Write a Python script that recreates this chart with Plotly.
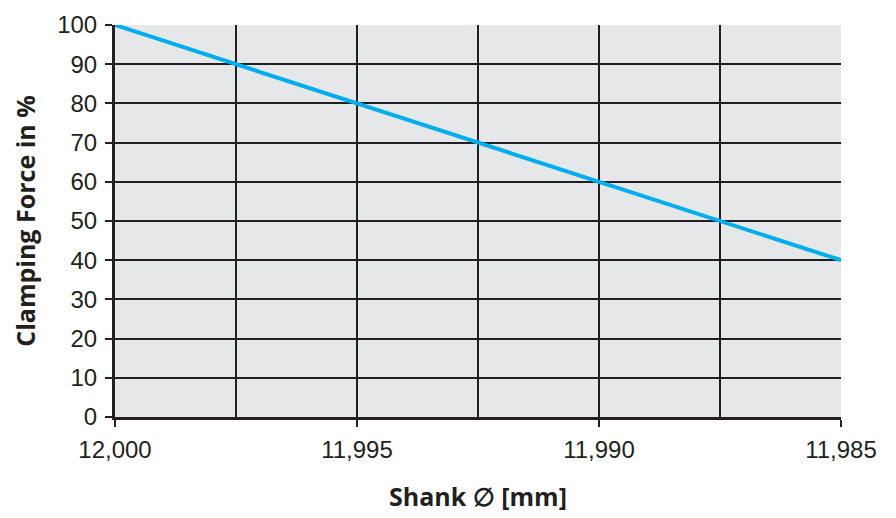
import plotly.graph_objects as go

shank_mm = [12.000, 11.9975, 11.995, 11.9925, 11.990, 11.9875, 11.985]
clamping_pct = [100, 90, 80, 70, 60, 50, 40]

x_ticks = [12.000, 11.995, 11.990, 11.985]
y_ticks = [0, 10, 20, 30, 40, 50, 60, 70, 80, 90, 100]

DARK = "#231f20"

fig = go.Figure()
fig.add_trace(go.Scatter(
    x=shank_mm, y=clamping_pct, mode="lines",
    line=dict(color="#00aeef", width=4), showlegend=False,
))

fig.update_layout(
    width=896, height=518,
    margin=dict(l=107, r=63, t=17, b=109, autoexpand=False),
    paper_bgcolor="white", plot_bgcolor="#e6e7e8",
    separators=",.",
    font=dict(family="Liberation Sans, Arial, sans-serif", size=24, color=DARK),
)
fig.update_xaxes(
    range=[12.000, 11.985], tickvals=x_ticks, tickformat=".3f",
    showgrid=True, gridcolor=DARK, gridwidth=2,
    minor=dict(dtick=0.0025, tick0=12.0, showgrid=True, gridcolor=DARK, gridwidth=2),
    ticks="outside", ticklen=7, tickwidth=2, tickcolor=DARK,
    ticklabelstandoff=2, automargin=False,
    showline=True, linecolor=DARK, linewidth=3, mirror=False,
    zeroline=False,
    title=dict(text="<b>Shank ∅ [mm]</b>", standoff=27,
               font=dict(family="Open Sans, sans-serif", size=25, color=DARK)),
)
fig.update_yaxes(
    range=[0, 100], tickvals=y_ticks,
    showgrid=True, gridcolor=DARK, gridwidth=2,
    ticks="outside", ticklen=7, tickwidth=2, tickcolor=DARK,
    ticklabelstandoff=3, automargin=False,
    showline=True, linecolor=DARK, linewidth=3,
    zeroline=False,
    title=dict(text="<b>Clamping Force in %</b>", standoff=18,
               font=dict(family="Open Sans, sans-serif", size=25, color=DARK)),
)

fig.write_html("out.html")
